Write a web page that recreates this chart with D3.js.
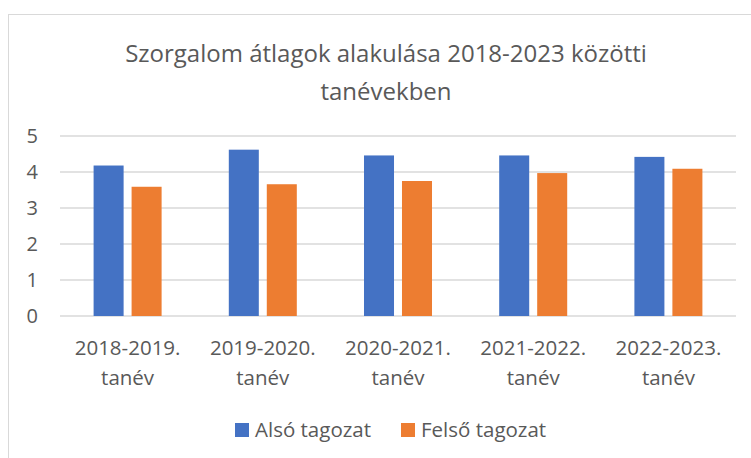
<!DOCTYPE html>
<html>
<head>
<meta charset="utf-8">
<script src="https://cdn.jsdelivr.net/npm/d3@7"></script>
<style>
  body { margin: 0; background: #fff; }
  text { font-family: "Open Sans", "Noto Sans", sans-serif; fill: #595959; }
</style>
</head>
<body>
<script>
// data
const categories = ["2018-2019. tanév", "2019-2020. tanév", "2020-2021. tanév", "2021-2022. tanév", "2022-2023. tanév"];
const seriesNames = ["Alsó tagozat", "Felső tagozat"];
const also = [4.18, 4.62, 4.46, 4.46, 4.42];
const felso = [3.59, 3.66, 3.75, 3.97, 4.09];
const yTicks = [0, 1, 2, 3, 4, 5];
const colors = ["#4472C4", "#ED7D31"];

const width = 751, height = 458;
const plot = {left: 60, right: 736, top: 136, bottom: 316};

const svg = d3.select("body").append("svg")
  .attr("width", width)
  .attr("height", height);

// chart frame
svg.append("rect")
  .attr("x", 8.5).attr("y", 14.5)
  .attr("width", width + 10).attr("height", height + 10)
  .attr("fill", "#fff")
  .attr("stroke", "#d9d9d9");

// title
const title = svg.append("text")
  .attr("text-anchor", "middle")
  .style("font-size", "24px");
title.append("tspan").attr("x", 386).attr("y", 62).text("Szorgalom átlagok alakulása 2018-2023 közötti");
title.append("tspan").attr("x", 386).attr("y", 100).text("tanévekben");

const y = d3.scaleLinear().domain([0, 5]).range([plot.bottom, plot.top]);
const x0 = d3.scaleBand().domain(categories).range([plot.left, plot.right])
  .paddingInner(0.497).paddingOuter(0.2485);
const x1 = d3.scaleBand().domain(seriesNames).range([0, x0.bandwidth()]).paddingInner(0.21);

// gridlines
svg.append("g").selectAll("line").data(yTicks).join("line")
  .attr("x1", plot.left).attr("x2", plot.right)
  .attr("y1", d => y(d)).attr("y2", d => y(d))
  .attr("stroke", "#d9d9d9").attr("stroke-width", 1.3);

// y labels
svg.append("g").selectAll("text").data(yTicks).join("text")
  .attr("x", 38).attr("y", d => y(d))
  .attr("dy", "0.35em")
  .attr("text-anchor", "end")
  .style("font-size", "20px")
  .text(d => d);

// bars
const rows = categories.map((c, i) => ({cat: c, vals: [also[i], felso[i]]}));
const groups = svg.append("g").selectAll("g").data(rows).join("g")
  .attr("transform", d => `translate(${x0(d.cat)},0)`);
groups.selectAll("rect")
  .data(d => d.vals.map((v, j) => ({name: seriesNames[j], v: v, c: colors[j]})))
  .join("rect")
  .attr("x", d => x1(d.name))
  .attr("width", x1.bandwidth())
  .attr("y", d => y(d.v))
  .attr("height", d => y(0) - y(d.v))
  .attr("fill", d => d.c);

// x labels (two lines)
const xl = svg.append("g").selectAll("text").data(categories).join("text")
  .attr("text-anchor", "middle")
  .style("font-size", "20.5px");
xl.each(function(d) {
  const cx = x0(d) + x0.bandwidth() / 2;
  const parts = d.split(" ");
  d3.select(this).append("tspan").attr("x", cx).attr("y", 355).text(parts[0]);
  d3.select(this).append("tspan").attr("x", cx).attr("y", 385).text(parts[1]);
});

// legend
const legendX = [235, 401];
const lg = svg.append("g").selectAll("g").data(seriesNames).join("g")
  .attr("transform", (d, i) => `translate(${legendX[i]},423)`);
lg.append("rect").attr("width", 14).attr("height", 14).attr("fill", (d, i) => colors[i]);
lg.append("text").attr("x", 20).attr("y", 14)
  .style("font-size", "20.5px")
  .text(d => d);
</script>
</body>
</html>
